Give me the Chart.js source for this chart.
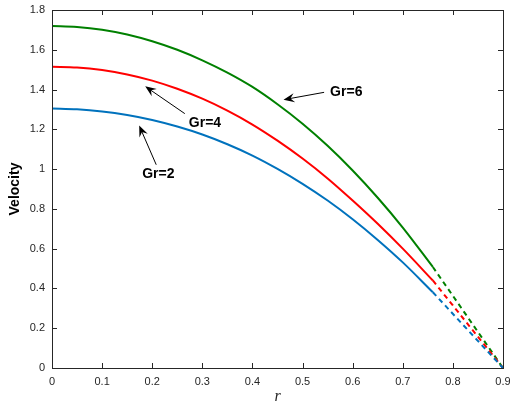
<!DOCTYPE html>
<html>
<head>
<meta charset="utf-8">
<script src="https://cdn.jsdelivr.net/npm/chart.js@4/dist/chart.umd.min.js"></script>
<style>
  body { margin: 0; background: #fff; overflow: hidden; }
</style>
</head>
<body>
<canvas id="velocityChart" width="510" height="407"></canvas>
<script>
// solid part of each profile
const radius = [0, 0.05, 0.1, 0.15, 0.2, 0.25, 0.3, 0.35, 0.4, 0.45, 0.5, 0.55, 0.6, 0.65, 0.7, 0.76];
const gr2 = [1.305, 1.301, 1.290, 1.272, 1.247, 1.214, 1.174, 1.125, 1.068, 1.001, 0.926, 0.842, 0.748, 0.644, 0.531, 0.381];
const gr4 = [1.515, 1.511, 1.498, 1.476, 1.445, 1.404, 1.354, 1.294, 1.224, 1.143, 1.053, 0.953, 0.842, 0.725, 0.600, 0.440];
const gr6 = [1.720, 1.715, 1.701, 1.677, 1.643, 1.600, 1.547, 1.485, 1.413, 1.326, 1.228, 1.117, 0.993, 0.856, 0.706, 0.508];

// dashed tail down to the wall
const tailRadius = [0.76, 0.9];
const gr2Tail = [0.381, 0];
const gr4Tail = [0.440, 0];
const gr6Tail = [0.508, 0];

const xTicks = [0, 0.1, 0.2, 0.3, 0.4, 0.5, 0.6, 0.7, 0.8, 0.9];
const yTicks = [0, 0.2, 0.4, 0.6, 0.8, 1, 1.2, 1.4, 1.6, 1.8];

const noteLabels = ['Gr=2', 'Gr=4', 'Gr=6'];

const toPoints = (xs, ys) => xs.map((x, i) => ({ x: x, y: ys[i] }));
const tickText = v => String(Math.round(v * 10) / 10);

const blue = '#0072BD';
const red = '#FF0000';
const green = '#008000';
const axisColor = '#262626';

function lineSet(xs, ys, color, dashed) {
    return {
        data: toPoints(xs, ys),
        borderColor: color,
        borderWidth: 2,
        borderDash: dashed ? [5, 4] : [],
        pointRadius: 0,
        cubicInterpolationMode: 'monotone',
        fill: false
    };
}

// box, inward ticks and the arrow notes
const matlabAxes = {
    id: 'matlabAxes',
    afterDraw(chart) {
        const { ctx, chartArea: a, scales: { x, y } } = chart;
        ctx.save();
        ctx.strokeStyle = axisColor;
        ctx.lineWidth = 1;
        ctx.strokeRect(a.left + 0.5, a.top + 0.5, a.right - a.left, a.bottom - a.top);
        ctx.beginPath();
        xTicks.forEach(v => {
            const px = Math.round(x.getPixelForValue(v)) + 0.5;
            ctx.moveTo(px, a.bottom); ctx.lineTo(px, a.bottom - 5);
            ctx.moveTo(px, a.top); ctx.lineTo(px, a.top + 5);
        });
        yTicks.forEach(v => {
            const py = Math.round(y.getPixelForValue(v)) + 0.5;
            ctx.moveTo(a.left, py); ctx.lineTo(a.left + 5, py);
            ctx.moveTo(a.right, py); ctx.lineTo(a.right - 5, py);
        });
        ctx.stroke();

        const notes = [
            { text: noteLabels[0], tx: 0.18, ty: 0.975, from: [0.208, 1.022], to: [0.174, 1.219] },
            { text: noteLabels[1], tx: 0.273, ty: 1.229, from: [0.265, 1.279], to: [0.186, 1.416] },
            { text: noteLabels[2], tx: 0.555, ty: 1.385, from: [0.543, 1.386], to: [0.462, 1.349] }
        ];
        ctx.fillStyle = '#000';
        ctx.strokeStyle = '#000';
        notes.forEach(n => {
            const x0 = x.getPixelForValue(n.from[0]), y0 = y.getPixelForValue(n.from[1]);
            const x1 = x.getPixelForValue(n.to[0]), y1 = y.getPixelForValue(n.to[1]);
            const ang = Math.atan2(y1 - y0, x1 - x0);
            const c = Math.cos(ang), s = Math.sin(ang);
            ctx.lineWidth = 1;
            ctx.beginPath();
            ctx.moveTo(x0, y0);
            ctx.lineTo(x1 - 6 * c, y1 - 6 * s);
            ctx.stroke();
            ctx.beginPath();
            ctx.moveTo(x1, y1);
            ctx.lineTo(x1 - 11 * c + 4.5 * s, y1 - 11 * s - 4.5 * c);
            ctx.lineTo(x1 - 7 * c, y1 - 7 * s);
            ctx.lineTo(x1 - 11 * c - 4.5 * s, y1 - 11 * s + 4.5 * c);
            ctx.closePath();
            ctx.fill();
            ctx.font = 'bold 14px "Liberation Sans", Arial, sans-serif';
            ctx.textAlign = 'left';
            ctx.textBaseline = 'middle';
            ctx.fillText(n.text, x.getPixelForValue(n.tx), y.getPixelForValue(n.ty));
        });
        ctx.restore();
    }
};

document.addEventListener('DOMContentLoaded', () => {
    const ctx = document.getElementById('velocityChart');

    new Chart(ctx, {
        type: 'line',
        data: {
            datasets: [
                lineSet(radius, gr2, blue, false),
                lineSet(radius, gr4, red, false),
                lineSet(radius, gr6, green, false),
                lineSet(tailRadius, gr2Tail, blue, true),
                lineSet(tailRadius, gr4Tail, red, true),
                lineSet(tailRadius, gr6Tail, green, true)
            ]
        },
        options: {
            responsive: false,
            animation: false,
            layout: { padding: { top: 10, right: 7, left: 0, bottom: 0 } },
            plugins: {
                legend: { display: false },
                tooltip: { enabled: false }
            },
            scales: {
                x: {
                    type: 'linear',
                    min: 0,
                    max: 0.9,
                    afterBuildTicks: s => { s.ticks = xTicks.map(v => ({ value: v })); },
                    afterFit: s => { s.height = 39; s.paddingLeft = 0; s.paddingRight = 0; },
                    grid: { display: false, drawTicks: false },
                    border: { display: false },
                    ticks: {
                        padding: 7,
                        color: axisColor,
                        maxRotation: 0,
                        callback: tickText,
                        font: { family: '"Liberation Sans", Arial, sans-serif', size: 11 }
                    },
                    title: {
                        display: true,
                        text: 'r',
                        color: axisColor,
                        padding: { top: 0, bottom: 1 },
                        font: { family: '"Liberation Serif", "Times New Roman", serif', size: 16, style: 'italic' }
                    }
                },
                y: {
                    type: 'linear',
                    min: 0,
                    max: 1.8,
                    afterBuildTicks: s => { s.ticks = yTicks.map(v => ({ value: v })); },
                    afterFit: s => { s.width = 52; s.paddingTop = 0; s.paddingBottom = 0; },
                    grid: { display: false, drawTicks: false },
                    border: { display: false },
                    ticks: {
                        padding: 7,
                        color: axisColor,
                        callback: tickText,
                        font: { family: '"Liberation Sans", Arial, sans-serif', size: 11 }
                    },
                    title: {
                        display: true,
                        text: 'Velocity',
                        color: '#000',
                        padding: { top: 7, bottom: 0 },
                        font: { family: '"Liberation Sans", Arial, sans-serif', size: 14, weight: 'bold' }
                    }
                }
            }
        },
        plugins: [matlabAxes]
    });
});
</script>
</body>
</html>
